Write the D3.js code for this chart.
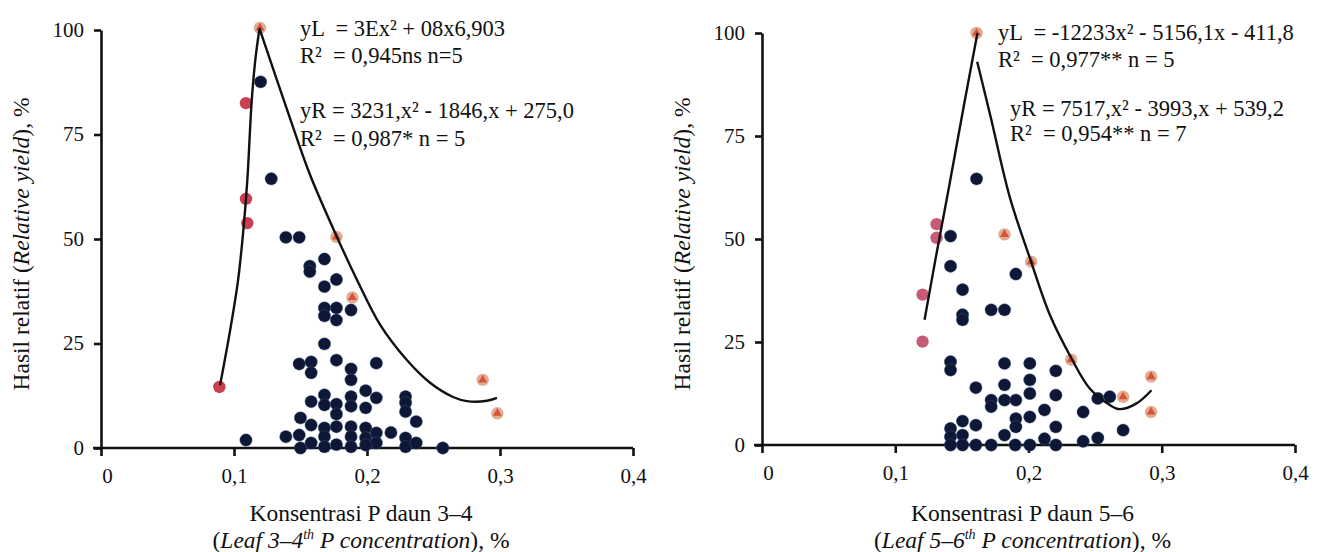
<!DOCTYPE html>
<html>
<head>
<meta charset="utf-8">
<script src="https://cdn.jsdelivr.net/npm/d3@7"></script>
<style>
  body { margin: 0; background: #fff; }
  text { font-family: "Liberation Serif", "Times New Roman", serif; fill: #111; white-space: pre; }
</style>
</head>
<body>
<div id="chart"></div>
<script>
// ticks
var xTicks = [0, 0.1, 0.2, 0.3, 0.4];
var yTicks = [0, 25, 50, 75, 100];

// left panel (leaf 3-4)
var leftNavy = [[0.12,87.6],[0.128,64.4],[0.139,50.4],[0.149,50.4],
  [0.168,45.2],[0.157,43.5],[0.157,42.2],[0.177,40.3],[0.168,38.6],
  [0.168,33.5],[0.168,31.6],[0.177,33.5],[0.177,30.6],[0.188,33],[0.168,24.9],
  [0.149,20.1],[0.158,20.6],[0.158,18],[0.177,21],[0.188,18.9],[0.188,16.3],[0.207,20.3],
  [0.158,11.1],[0.168,12.7],[0.168,10.3],[0.177,10.5],[0.177,8.1],[0.188,12.3],[0.188,10],
  [0.199,13.7],[0.199,9.6],[0.207,12],[0.229,12.3],[0.229,10.8],[0.229,8.7],[0.237,6.3],
  [0.15,7.2],[0.158,5.5],[0.168,4.8],[0.168,2.7],[0.177,5.1],[0.188,5.1],[0.188,2.7],
  [0.199,4.8],[0.199,2.4],[0.207,3.6],[0.207,1.2],[0.218,3.7],[0.229,2.4],[0.229,0.3],
  [0.237,1.2],[0.139,2.7],[0.149,3.1],[0.109,1.9],[0.15,0],[0.158,1.2],[0.168,0.3],
  [0.177,0.8],[0.188,0.3],[0.199,0.7],[0.257,0]];
var leftRed = [[0.089,14.6],[0.109,59.6],[0.11,53.8],[0.109,82.5]];
var leftOrange = [[0.1195,100.5],[0.177,50.5],[0.189,36],[0.287,16.3],[0.298,8.3]];
var leftCurveL = [[0.0895,15],[0.097,28],[0.103,40],[0.107,52],[0.110,64],[0.1133,83],[0.116,92.8],[0.119,100]];
var leftCurveR = [[0.119,100.5],[0.142,79],[0.157,65.5],[0.1774,50.5],[0.1925,40.2],[0.2098,29.5],
  [0.2298,21.1],[0.2474,15.6],[0.2647,12.2],[0.2752,11.2],[0.2902,11.3],[0.2977,12]];
var leftEq = ["yL  = 3Ex\u00b2 + 08x6,903", "R\u00b2  = 0,945ns n=5", "yR = 3231,x\u00b2 - 1846,x + 275,0", "R\u00b2  = 0,987* n = 5"];

// right panel (leaf 5-6)
var rightNavy = [[0.161,64.6],[0.1415,50.7],[0.1415,43.4],[0.1505,37.7],[0.1505,31.6],[0.1505,30.4],
  [0.172,32.8],[0.182,32.8],[0.1905,41.5],[0.1415,20.2],[0.1415,18.2],[0.1605,13.9],
  [0.172,10.9],[0.172,9.3],[0.182,19.8],[0.182,14.6],[0.182,10.9],[0.1905,10.9],
  [0.201,19.8],[0.201,15.8],[0.201,12.5],[0.201,6.8],[0.2205,18],[0.2205,12.1],[0.212,8.5],
  [0.1905,6.4],[0.1905,4.4],[0.2205,4.4],[0.241,8],[0.252,11.3],[0.261,11.7],[0.271,3.6],
  [0.252,1.7],[0.241,0.9],[0.212,1.5],[0.182,2.4],[0.1415,4],[0.1415,2],[0.1505,5.8],
  [0.1505,2.4],[0.1605,4.8],[0.1415,0],[0.1505,0],[0.1605,0],[0.172,0],[0.19,0],[0.201,0],[0.2205,0]];
var rightRed = [[0.131,53.6],[0.131,50.3],[0.1205,36.5],[0.1205,25.1]];
var rightOrange = [[0.161,100],[0.182,51.1],[0.202,44.5],[0.232,20.7],[0.271,11.7],[0.292,16.6],[0.292,8]];
var rightCurveL = [[0.122,30.4],[0.131,46.5],[0.14,62],[0.151,81.5],[0.1617,100]];
var rightCurveR = [[0.1615,93],[0.1716,79.6],[0.186,60.1],[0.201,45.4],[0.216,31.6],[0.2323,21],
  [0.246,13.7],[0.261,9.7],[0.2686,8.7],[0.2811,10.1],[0.2923,13.3]];
var rightEq = ["yL  = -12233x\u00b2 - 5156,1x - 411,8", "R\u00b2  = 0,977** n = 5", "yR = 7517,x\u00b2 - 3993,x + 539,2", "R\u00b2  = 0,954** n = 7"];

var svg = d3.select('#chart').append('svg')
    .attr('width', 1319)
    .attr('height', 552);

function drawPanel(opt) {
    var x = d3.scaleLinear().domain([0, 0.4]).range([opt.x0, opt.x1]);
    var y = d3.scaleLinear().domain([0, 100]).range([opt.y0, opt.y1]);
    var g = svg.append('g');

    // axes
    var xAxis = d3.axisBottom(x).tickValues(xTicks).tickSize(8).tickSizeOuter(0)
        .tickFormat(function (d) { return d === 0 ? '0' : d3.format('.1f')(d).replace('.', ','); });
    var yAxis = d3.axisLeft(y).tickValues(yTicks).tickSize(7).tickSizeOuter(0);

    var xg = g.append('g').attr('transform', 'translate(0,' + opt.y0 + ')').call(xAxis);
    var yg = g.append('g').attr('transform', 'translate(' + opt.x0 + ',0)').call(yAxis);
    [xg, yg].forEach(function (a) {
        a.select('.domain').attr('stroke', '#111').attr('stroke-width', 2.6);
        a.selectAll('.tick line').attr('stroke', '#111').attr('stroke-width', 2.6);
        a.selectAll('.tick text').style('font-size', '21px')
            .style('font-family', '"Liberation Serif", serif').attr('fill', '#111');
    });
    xg.select('.domain').attr('d', 'M' + (opt.x0 - 8) + ',0H' + opt.x1);
    xg.selectAll('.tick text').attr('y', 14).attr('dy', '1em');
    xg.select('.tick text').attr('dx', 6);
    yg.selectAll('.tick text').attr('x', -17).attr('dy', '0.3em');

    // dots
    g.selectAll('.navy').data(opt.navy).enter().append('circle')
        .attr('cx', function (d) { return x(d[0]); })
        .attr('cy', function (d) { return y(d[1]); })
        .attr('r', 6.2)
        .attr('fill', '#0e1836')
        .attr('stroke', '#3b5a8a').attr('stroke-width', 0.8).attr('stroke-opacity', 0.5);

    g.selectAll('.red').data(opt.red).enter().append('circle')
        .attr('cx', function (d) { return x(d[0]); })
        .attr('cy', function (d) { return y(d[1]); })
        .attr('r', 6.2)
        .attr('fill', opt.redColor).attr('opacity', 0.9);

    var orange = g.selectAll('.orange').data(opt.orange).enter().append('g')
        .attr('transform', function (d) { return 'translate(' + x(d[0]) + ',' + y(d[1]) + ')'; });
    orange.append('circle').attr('r', 6.2).attr('fill', '#d9a07e').attr('opacity', 0.85);
    orange.append('path').attr('d', d3.symbol(d3.symbolTriangle, 34)).attr('fill', '#d8402c').attr('opacity', 0.85);

    // fitted curves (traced)
    var line = d3.line().x(function (d) { return x(d[0]); }).y(function (d) { return y(d[1]); })
        .curve(d3.curveCatmullRom.alpha(0.5));
    [opt.curveL, opt.curveR].forEach(function (c) {
        g.append('path').datum(c).attr('d', line).attr('fill', 'none')
            .attr('stroke', '#111').attr('stroke-width', 2.4);
    });

    // equations
    opt.eq.forEach(function (t, i) {
        g.append('text').attr('x', opt.eqX[i]).attr('y', opt.eqY[i])
            .style('font-size', '22.5px').text(t);
    });

    // axis titles
    var cx = (opt.x0 + opt.x1) / 2 - 6;
    g.append('text').attr('x', cx).attr('y', 521).attr('text-anchor', 'middle')
        .style('font-size', '23.5px').text(opt.xTitle);
    var t2 = g.append('text').attr('x', cx).attr('y', 548).attr('text-anchor', 'middle')
        .style('font-size', '23.5px');
    t2.append('tspan').text('(');
    t2.append('tspan').style('font-style', 'italic').text(opt.xSub);
    t2.append('tspan').style('font-style', 'italic').style('font-size', '14px')
        .attr('dy', -9).text('th');
    t2.append('tspan').style('font-style', 'italic').attr('dy', 9).text(' P concentration');
    t2.append('tspan').text('), %');

    var yt = g.append('text')
        .attr('transform', 'translate(' + opt.yTitleX + ',' + 244 + ') rotate(-90)')
        .attr('text-anchor', 'middle').style('font-size', '23.5px');
    yt.append('tspan').text('Hasil relatif (');
    yt.append('tspan').style('font-style', 'italic').text('Relative yield');
    yt.append('tspan').text('), %');
}

drawPanel({
    x0: 101, x1: 633, y0: 448, y1: 30,
    navy: leftNavy, red: leftRed, orange: leftOrange, redColor: '#c42a3e',
    curveL: leftCurveL, curveR: leftCurveR,
    eq: leftEq, eqX: [300, 300, 300, 300], eqY: [36, 63, 118, 146],
    xTitle: 'Konsentrasi P daun 3\u20134', xSub: 'Leaf 3\u20134', yTitleX: 29
});

drawPanel({
    x0: 762, x1: 1295, y0: 445, y1: 33,
    navy: rightNavy, red: rightRed, orange: rightOrange, redColor: '#bf4a66',
    curveL: rightCurveL, curveR: rightCurveR,
    eq: rightEq, eqX: [998, 998, 1010, 1010], eqY: [40, 67, 116, 141],
    xTitle: 'Konsentrasi P daun 5\u20136', xSub: 'Leaf 5\u20136', yTitleX: 690
});
</script>
</body>
</html>
